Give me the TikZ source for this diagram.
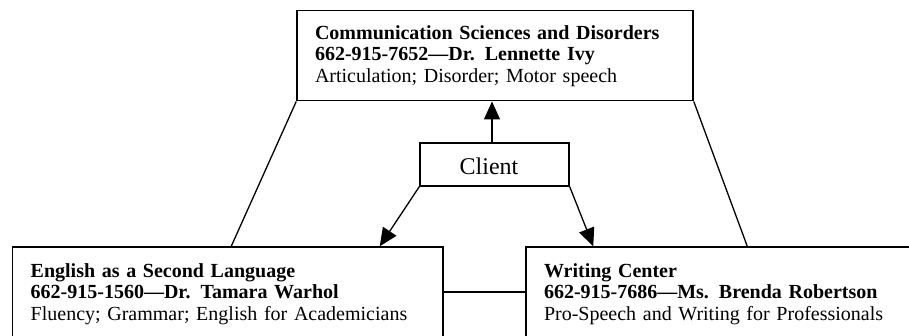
\documentclass[tikz,border=0pt]{standalone}
\usepackage{fontspec}
\setmainfont{Liberation Serif}
\usetikzlibrary{arrows.meta}
\begin{document}
\begin{tikzpicture}[x=1pt,y=-1pt,
  box/.style={draw, line width=1.5pt, rectangle, inner xsep=18pt, inner ysep=0pt,
    align=left, font=\fontsize{20}{21.5}\selectfont},
  clientbox/.style={draw, line width=1.5pt, rectangle, inner sep=0pt,
    minimum width=149pt, minimum height=43pt, font=\fontsize{24}{26}\selectfont,
    text height=20pt, text depth=0pt},
  link/.style={line width=1.3pt},
  arr/.style={line width=1.3pt, -{Triangle[length=18pt,width=16pt]}}]
\clip (0,0) rectangle (909,335);
\node[box, text width=360pt, minimum height=90pt] (top) at (495,55.7)
  {\rule{0pt}{15pt}\textbf{Communication Sciences and Disorders}\\
   \textbf{662-915-7652—Dr. Lennette Ivy}\\
   Articulation; Disorder; Motor speech\rule[-5pt]{0pt}{5pt}};
\node[clientbox] (client) at (494.5,164.5) {Client\kern11pt};
\node[box, text width=394.3pt, minimum height=93pt] (esl) at (227.85,293.5)
  {\rule{0pt}{15pt}\textbf{English as a Second Language}\\
   \textbf{662-915-1560—Dr. Tamara Warhol}\\
   Fluency; Grammar; English for Academicians\rule[-5pt]{0pt}{5pt}};
\node[box, text width=349pt, minimum height=93pt] (wc) at (718.5,293.5)
  {\rule{0pt}{15pt}\textbf{Writing Center}\\
   \textbf{662-915-7686—Ms. Brenda Robertson}\\
   Pro-Speech and Writing for Professionals\rule[-5pt]{0pt}{5pt}};
\draw[link] (top.south west) -- ([xshift=219.3pt]esl.north west);
\draw[link] (top.south east) -- ([xshift=222pt]wc.north west);
\draw[link] ([yshift=1.5pt]esl.east) -- ([yshift=1.5pt]wc.west);
\draw[arr] ([xshift=-2.5pt]client.north) -- ([xshift=-2.5pt]client.north |- top.south);
\draw[arr] (client.south west) -- ([xshift=-64pt]esl.north east);
\draw[arr] (client.south east) -- ([xshift=68pt]wc.north west);
\end{tikzpicture}
\end{document}
